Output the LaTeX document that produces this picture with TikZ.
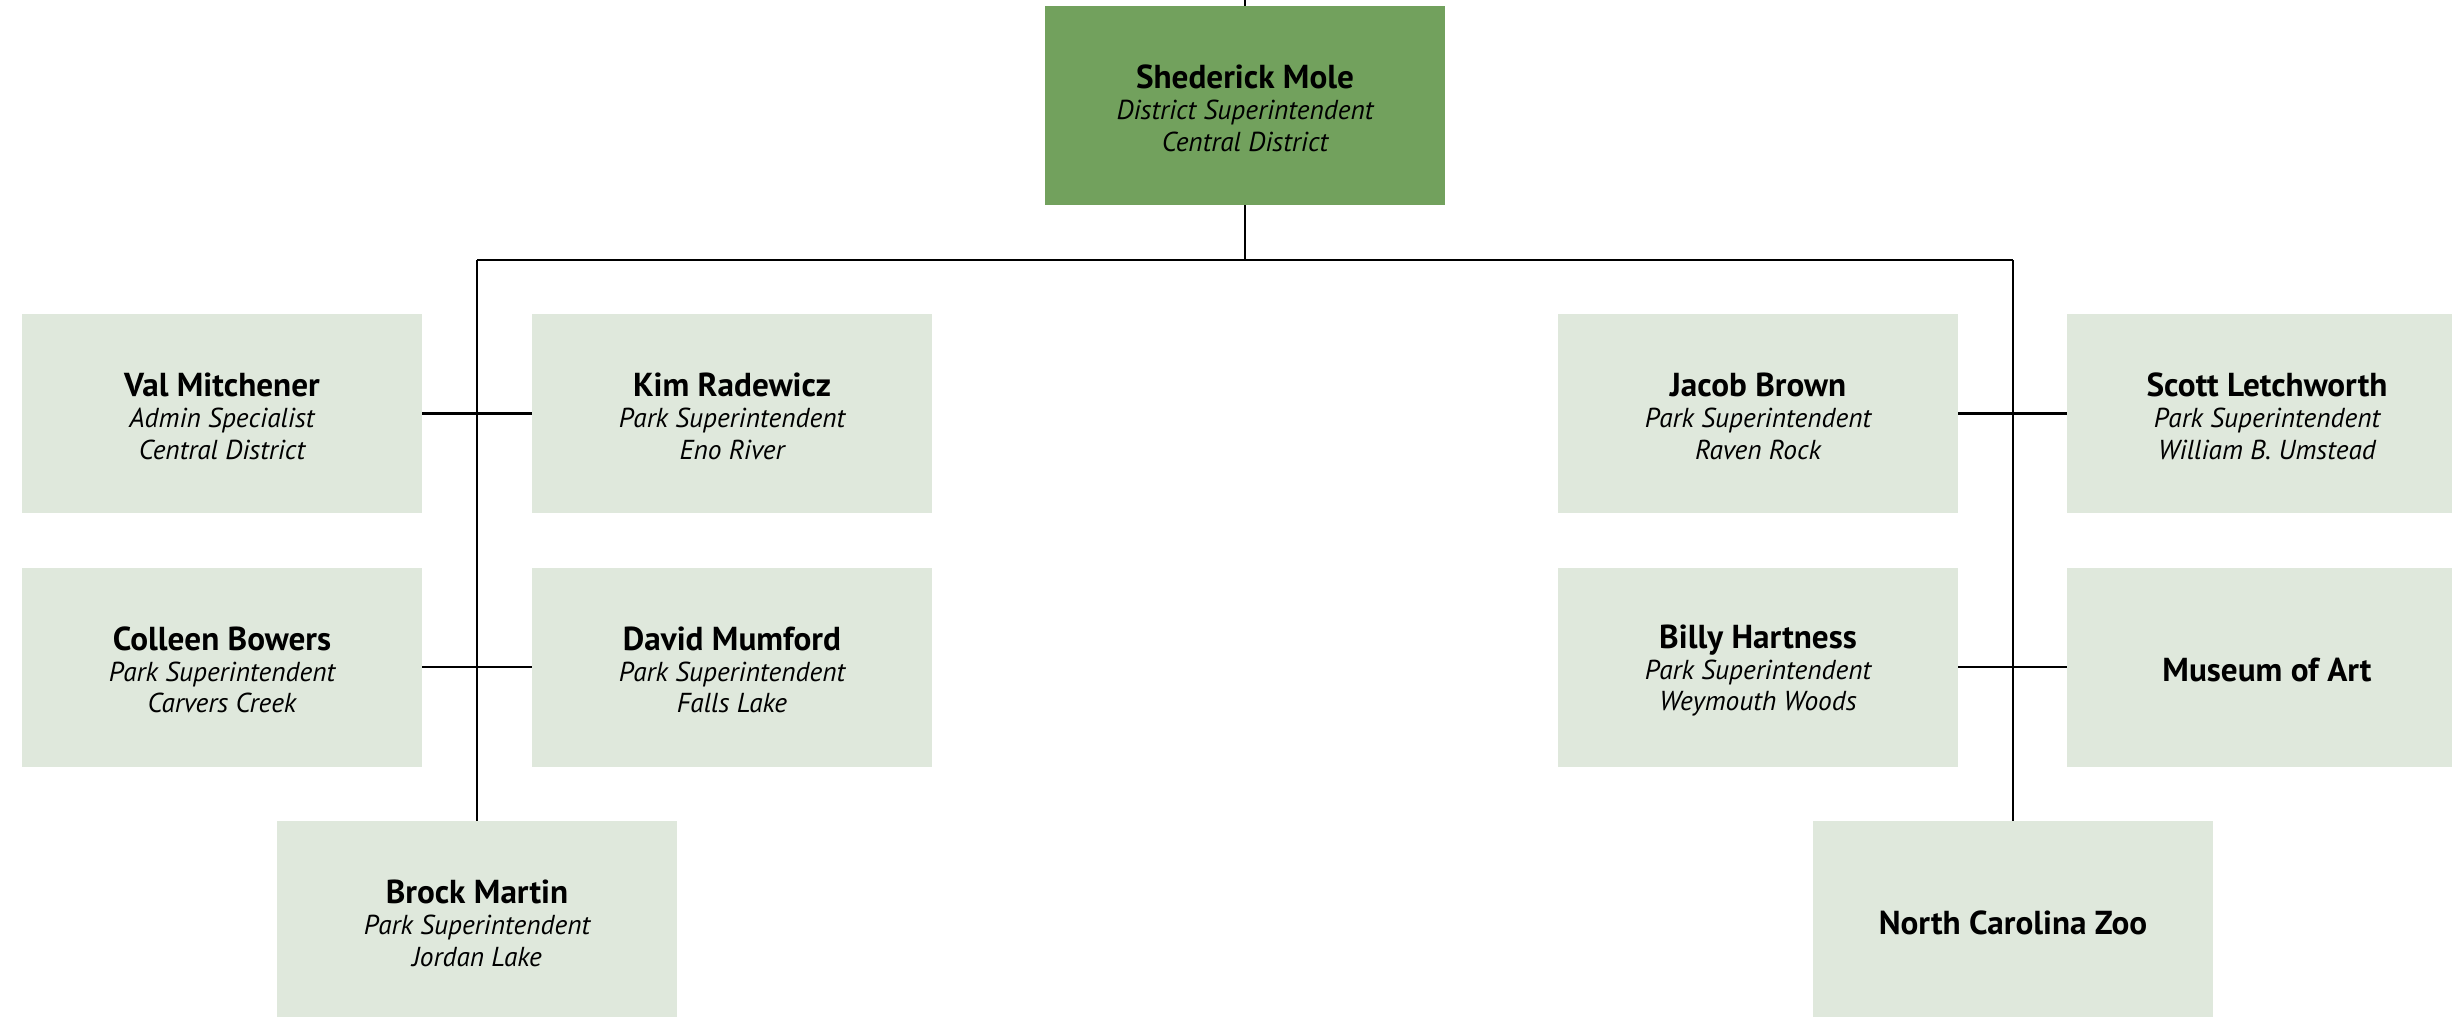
\documentclass[tikz,border=0pt]{standalone}
\usepackage{fontspec}
\setmainfont{PT Sans}
\definecolor{headgreen}{HTML}{72A15D}
\definecolor{boxgreen}{HTML}{DFE8DC}
\lineskiplimit=-20pt\relax
\lineskip=0pt\relax
\newcommand{\cardstrut}{\rule[-0.6pt]{0pt}{15.6pt}}
\newcommand{\pname}[1]{{\fontsize{16.6}{15.6}\selectfont\bfseries\cardstrut #1}}
\newcommand{\prole}[1]{{\fontsize{13.7}{15.6}\selectfont\itshape\cardstrut #1}}
\begin{document}
\begin{tikzpicture}[x=0.5pt,y=-0.5pt,
  card/.style={rectangle, fill=boxgreen, draw=none, minimum width=200pt, minimum height=99.5pt,
    inner sep=0pt, align=center, font=\fontsize{13.7}{15.6}\selectfont},
  headcard/.style={card, fill=headgreen},
  conn/.style={draw=black, line width=1.1pt}]
\useasboundingbox (0,0) rectangle (2452,1017);
\fill[white] (0,0) rectangle (2452,1017);

\node[headcard] (mole) at (1245,105.5) {\pname{Shederick Mole}\\\prole{District Superintendent}\\\prole{Central District}};

\node[card] (val) at (222,413.5) {\pname{Val Mitchener}\\\prole{Admin Specialist}\\\prole{Central District}};
\node[card] (kim) at (732,413.5) {\pname{Kim Radewicz}\\\prole{Park Superintendent}\\\prole{Eno River}};
\node[card] (colleen) at (222,667) {\pname{Colleen Bowers}\\\prole{Park Superintendent}\\\prole{Carvers Creek}};
\node[card] (david) at (732,667) {\pname{David Mumford}\\\prole{Park Superintendent}\\\prole{Falls Lake}};
\node[card] (brock) at (477,920.5) {\pname{Brock Martin}\\\prole{Park Superintendent}\\\prole{Jordan Lake}};

\node[card] (jacob) at (1758,413.5) {\pname{Jacob Brown}\\\prole{Park Superintendent}\\\prole{Raven Rock}};
\node[card] (scott) at (2267,413.5) {\pname{Scott Letchworth}\\\prole{Park Superintendent}\\\prole{William B. Umstead}};
\node[card] (billy) at (1758,667) {\pname{Billy Hartness}\\\prole{Park Superintendent}\\\prole{Weymouth Woods}};
\node[card] (museum) at (2267,667) {\pname{Museum of Art}};
\node[card] (zoo) at (2013,920.5) {\pname{North Carolina Zoo}};

\coordinate (top) at (1245,0);
\coordinate (busC) at (1245,260);
\coordinate (busL) at (477,260);
\coordinate (busR) at (2013,260);

\draw[conn] (top) -- (mole.north);
\draw[conn] (mole.south) -- (busC);
\draw[conn] (busL) -- (busR);
\draw[conn] (busL) -- (brock.north);
\draw[conn] (busR) -- (zoo.north);
\draw[conn] (val.east) -- (kim.west);
\draw[conn] (colleen.east) -- (david.west);
\draw[conn] (jacob.east) -- (scott.west);
\draw[conn] (billy.east) -- (museum.west);
\end{tikzpicture}
\end{document}
